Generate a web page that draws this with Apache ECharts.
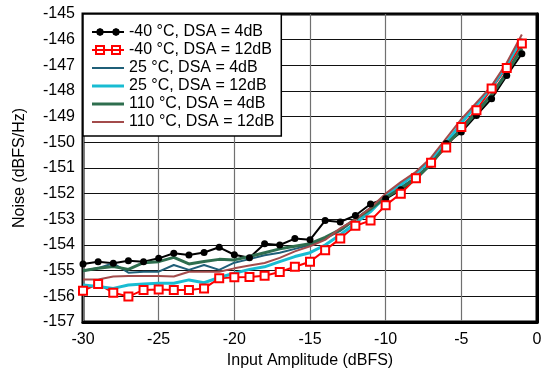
<!DOCTYPE html>
<html>
<head>
<meta charset="utf-8">
<script src="https://cdn.jsdelivr.net/npm/echarts@6/dist/echarts.min.js"></script>
<style>
html,body{margin:0;padding:0;background:#fff;}
#c{width:543px;height:369px;}
</style>
</head>
<body>
<div id="c"></div>
<script>
var xValues = [-30,-29,-28,-27,-26,-25,-24,-23,-22,-21,-20,-19,-18,-17,-16,-15,-14,-13,-12,-11,-10,-9,-8,-7,-6,-5,-4,-3,-2,-1];

var seriesNames = ['-40 °C, DSA = 4dB','-40 °C, DSA = 12dB','25 °C, DSA = 4dB','25 °C, DSA = 12dB','110 °C, DSA = 4dB','110 °C, DSA = 12dB'];

var m40_4dB = [-154.74,-154.65,-154.71,-154.61,-154.65,-154.52,-154.32,-154.39,-154.29,-154.09,
  -154.38,-154.50,-153.95,-154.00,-153.75,-153.80,-153.05,-153.10,-152.85,-152.40,
  -152.20,-151.85,-151.45,-150.85,-150.05,-149.60,-148.95,-148.30,-147.40,-146.55];
var m40_12dB = [-155.78,-155.52,-155.86,-156.01,-155.75,-155.73,-155.75,-155.75,-155.69,-155.30,
  -155.26,-155.25,-155.20,-155.05,-154.85,-154.65,-154.20,-153.75,-153.25,-153.05,
  -152.45,-152.00,-151.40,-150.80,-150.20,-149.40,-148.75,-147.90,-147.10,-146.15];
var t25_4dB = [-155.00,-154.90,-154.71,-155.08,-155.04,-155.04,-154.78,-154.97,-154.78,-154.97,
  -154.69,-154.55,-154.40,-154.30,-154.15,-154.00,-153.75,-153.45,-153.00,-152.55,
  -152.10,-151.75,-151.35,-150.80,-150.05,-149.45,-148.80,-148.10,-147.25,-146.30];
var t25_12dB = [-155.56,-155.62,-155.69,-155.56,-155.52,-155.49,-155.49,-155.36,-155.47,-155.26,
  -155.10,-154.95,-154.85,-154.65,-154.45,-154.30,-154.00,-153.60,-153.15,-152.70,
  -152.10,-151.65,-151.20,-150.70,-150.00,-149.25,-148.55,-147.85,-147.00,-145.95];
var t110_4dB = [-155.00,-154.91,-154.84,-154.95,-154.69,-154.65,-154.48,-154.74,-154.64,-154.56,
  -154.58,-154.45,-154.30,-154.15,-154.05,-153.95,-153.70,-153.40,-153.00,-152.60,
  -152.15,-151.80,-151.40,-150.85,-150.10,-149.50,-148.85,-148.15,-147.30,-146.35];
var t110_12dB = [-155.34,-155.34,-155.23,-155.21,-155.21,-155.21,-155.23,-155.04,-155.04,-155.04,
  -154.91,-154.80,-154.70,-154.50,-154.25,-154.05,-153.80,-153.35,-153.00,-152.55,
  -152.00,-151.55,-151.15,-150.60,-149.85,-149.10,-148.45,-147.80,-146.90,-145.80];

var xTicks = [-30,-25,-20,-15,-10,-5,0];
var yTicks = [-157,-156,-155,-154,-153,-152,-151,-150,-149,-148,-147,-146,-145];

function pairs(ys){ return xValues.map(function(x,i){ return [x, ys[i]]; }); }

var FONT = 'Liberation Sans, Arial, Helvetica, sans-serif';
var chart = echarts.init(document.getElementById('c'), null, {renderer:'canvas'});

var styles = [
  {color:'#000000', width:2, symbol:'circle', size:7, fill:'#000000', border:'#000000'},
  {color:'#ff0000', width:2, symbol:'rect', size:8, fill:'#ffffff', border:'#ff0000'},
  {color:'#1f5f78', width:2, symbol:'none'},
  {color:'#18bcd2', width:3, symbol:'none'},
  {color:'#2e6e4e', width:3, symbol:'none'},
  {color:'#a34b4b', width:2, symbol:'none'}
];
var datasets = [m40_4dB, m40_12dB, t25_4dB, t25_12dB, t110_4dB, t110_12dB];

// legend icons (all subpaths clockwise so they fill solidly)
function oct(cx, cy, r){
  var k = r * 0.7071, p = [[cx,cy-r],[cx+k,cy-k],[cx+r,cy],[cx+k,cy+k],[cx,cy+r],[cx-k,cy+k],[cx-r,cy],[cx-k,cy-k]];
  return 'M' + p.map(function(q){ return q[0].toFixed(2) + ',' + q[1].toFixed(2); }).join('L') + 'Z';
}
var dotIcon = 'path://M0,4L32,4L32,6L0,6Z' + oct(8,5,4) + oct(24,5,4);
var sqIcon = 'path://M0,4L32,4L32,6L0,6Z' +
  'M3,0L13,0L13,10L3,10Z M5,2L5,8L11,8L11,2Z' +
  'M19,0L29,0L29,10L19,10Z M21,2L21,8L27,8L27,2Z';
function lineIcon(w){ return 'path://M0,0L32,0L32,' + w + 'L0,' + w + 'Z'; }

var legendData = seriesNames.map(function(n,i){
  var s = styles[i];
  var icon = s.symbol === 'circle' ? dotIcon : (s.symbol === 'rect' ? sqIcon : lineIcon(s.width));
  return {name:n, icon:icon, itemStyle:{color:s.color, borderWidth:0}};
});

var series = datasets.map(function(d,i){
  var s = styles[i];
  return {
    name: seriesNames[i],
    type:'line',
    data: pairs(d),
    symbol: s.symbol,
    symbolSize: s.size || 0,
    showSymbol: s.symbol !== 'none',
    lineStyle:{color:s.color, width:s.width},
    itemStyle:{color: s.symbol==='none' ? s.color : s.fill, borderColor: s.border || s.color, borderWidth: s.symbol==='rect'?2:0},
    animation:false
  };
});

chart.setOption({
  animation:false,
  textStyle:{fontFamily:FONT},
  grid:{left:83, right:6, top:14, bottom:47, show:true, borderColor:'#000', borderWidth:3,
        backgroundColor:'transparent', outerBoundsMode:'none', containLabel:false},
  legend:{
    orient:'vertical', left:83, top:14,
    backgroundColor:'#fff', borderColor:'#000', borderWidth:1.5,
    padding:[10,7,6,9], itemGap:2, itemWidth:32, itemHeight:10,
    textStyle:{fontFamily:FONT, fontSize:16, color:'#000'},
    data: legendData
  },
  xAxis:{
    type:'value', min:-30, max:0, interval:5,
    name:'Input Amplitude (dBFS)', nameLocation:'middle', nameGap:26,
    nameTextStyle:{fontFamily:FONT, fontSize:16, color:'#000'},
    axisLine:{show:true, lineStyle:{color:'#000', width:3}},
    axisTick:{show:false},
    axisLabel:{fontFamily:FONT, fontSize:16, color:'#000', margin:10, showMaxLabel:true, showMinLabel:true},
    splitLine:{show:true, lineStyle:{color:'#707070', width:1.2}}
  },
  yAxis:{
    type:'value', min:-157, max:-145, interval:1,
    name:'Noise (dBFS/Hz)', nameLocation:'middle', nameGap:55, nameRotate:90,
    nameTextStyle:{fontFamily:FONT, fontSize:16, color:'#000'},
    axisLine:{show:true, lineStyle:{color:'#000', width:3}},
    axisTick:{show:false},
    axisLabel:{fontFamily:FONT, fontSize:16, color:'#000', margin:8},
    splitLine:{show:true, lineStyle:{color:'#111', width:1.2}}
  },
  series: series
});
</script>
</body>
</html>
